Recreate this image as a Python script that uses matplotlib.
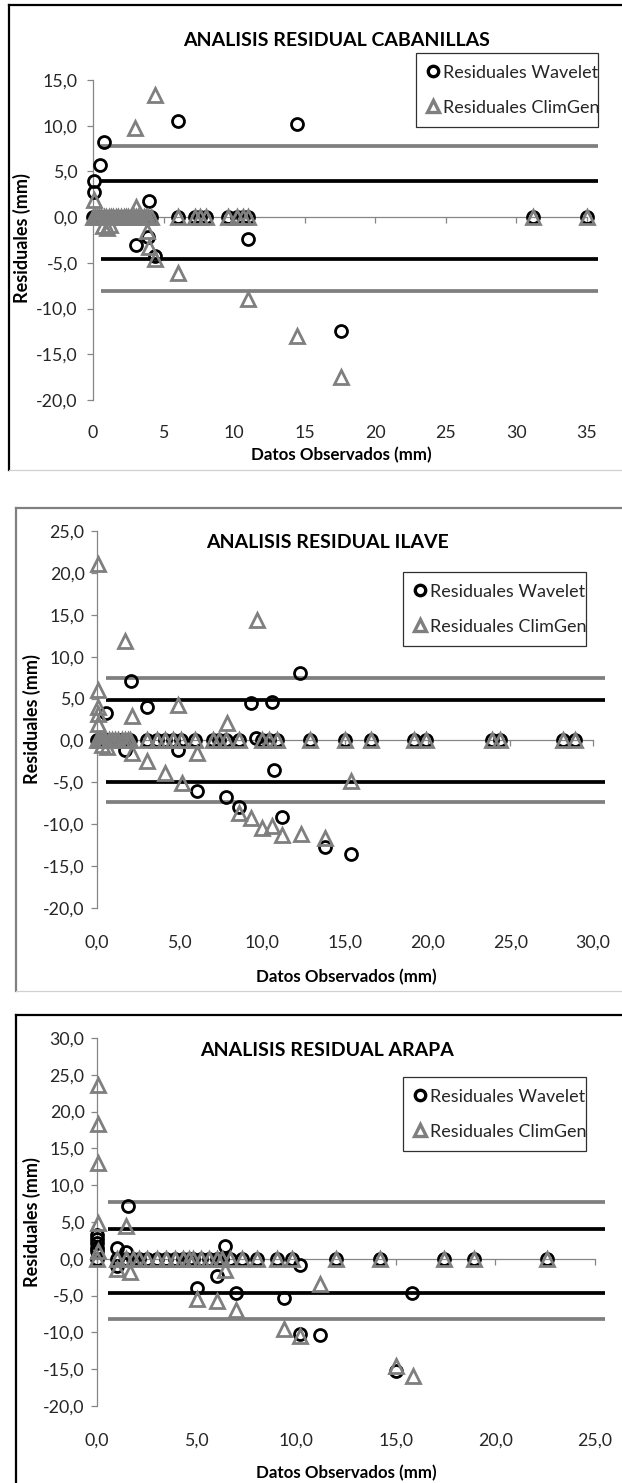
import matplotlib
matplotlib.use('Agg')
import numpy as np
import matplotlib.pyplot as plt
from matplotlib.lines import Line2D
from matplotlib.ticker import FuncFormatter, FixedLocator
from matplotlib import font_manager as fm

# ---------------- DATA ----------------
# Panel 1: CABANILLAS
cab_zero_x = [0.0, 0.15, 0.3, 0.45, 0.6, 0.8, 0.95, 1.1, 1.3, 1.45, 1.6, 1.8, 2.0, 2.2, 2.35,
              2.5, 2.7, 2.9, 3.05, 3.2, 3.4, 3.6, 3.75, 3.9, 4.1, 6.05, 7.2, 7.6, 8.0, 9.6,
              10.2, 10.6, 11.0, 31.2, 35.0]
cab_wav_x = [0.05, 0.05, 0.5, 0.8, 4.0, 6.05, 14.45, 3.05, 3.9, 4.4, 11.0, 17.55]
cab_wav_y = [4.0, 2.8, 5.7, 8.2, 1.8, 10.5, 10.2, -3.0, -2.2, -4.3, -2.4, -12.4]
cab_clim_x = [0.05, 0.7, 1.0, 1.2, 3.0, 3.05, 4.4, 3.8, 3.95, 4.4, 6.05, 11.0, 14.45, 17.55]
cab_clim_y = [1.9, -1.0, -1.2, -0.9, 9.7, 1.1, 13.4, -1.5, -3.3, -4.6, -6.1, -9.0, -13.0, -17.5]
cab_limits = [7.8, 4.0, -4.6, -8.1]
cab_lim_x = [0.6, 35.8]
cab_xticks = [0, 5, 10, 15, 20, 25, 30, 35]
cab_yticks = [-20, -15, -10, -5, 0, 5, 10, 15]

# Panel 2: ILAVE
ila_zero_x = [0.0, 0.1, 0.2, 0.3, 0.4, 0.5, 0.7, 0.9, 1.1, 1.3, 1.5, 1.7, 1.9, 2.0, 3.05, 3.6,
              4.1, 4.6, 5.1, 5.95, 7.0, 7.4, 7.8, 8.6, 10.0, 10.4, 10.9, 12.9, 15.0, 16.6,
              19.2, 19.9, 23.9, 24.4, 28.2, 28.9]
ila_wav_x = [0.55, 2.05, 3.05, 9.3, 10.6, 12.3, 9.6, 1.7, 4.9, 6.05, 7.8, 8.6, 10.7, 11.2, 13.8, 15.35]
ila_wav_y = [3.3, 7.1, 4.0, 4.5, 4.6, 8.1, 0.3, -1.1, -1.1, -6.0, -6.7, -7.9, -3.5, -9.1, -12.7, -13.6]
ila_clim_x = [0.05, 0.05, 0.05, 0.05, 0.05, 0.3, 0.6, 1.7, 2.1, 4.9, 7.85, 9.65, 2.1, 3.05, 4.1,
              5.15, 6.05, 8.6, 9.3, 10.0, 10.6, 11.2, 12.35, 13.8, 15.35]
ila_clim_y = [21.1, 6.0, 4.0, 3.2, 2.0, -0.6, -0.8, 11.9, 2.9, 4.2, 2.1, 14.4, -1.5, -2.5, -3.9,
              -5.1, -1.5, -8.7, -9.3, -10.5, -10.2, -11.3, -11.2, -11.6, -4.8]
ila_limits = [7.4, 4.8, -5.0, -7.4]
ila_lim_x = [0.55, 30.7]
ila_xticks = [0, 5, 10, 15, 20, 25, 30]
ila_yticks = [-20, -15, -10, -5, 0, 5, 10, 15, 20, 25]

# Panel 3: ARAPA
ara_zero_x = [0.0, 1.0, 1.45, 1.8, 2.1, 2.5, 3.0, 3.45, 3.9, 4.3, 4.6, 4.8, 5.2, 5.6, 6.0, 6.3,
              6.7, 7.3, 8.05, 9.05, 9.8, 12.0, 14.2, 17.4, 18.95, 22.6]
ara_wav_x = [1.55, 0.0, 0.0, 0.0, 0.0, 0.0, 1.0, 1.45, 1.0, 6.45, 6.0, 5.0, 7.0, 9.4, 10.2, 10.2,
             11.2, 15.0, 15.8]
ara_wav_y = [7.2, 3.2, 2.7, 2.2, 1.5, 1.0, 1.4, 0.9, -1.0, 1.7, -2.4, -3.9, -4.7, -5.3, -0.9,
             -10.2, -10.4, -15.3, -4.7]
ara_clim_x = [0.05, 0.05, 0.05, 0.05, 0.05, 1.45, 1.0, 1.65, 5.0, 6.0, 6.45, 7.0, 9.4, 10.2,
              11.2, 15.0, 15.85]
ara_clim_y = [23.6, 18.3, 13.0, 4.9, 1.1, 4.5, -1.4, -1.8, -5.4, -5.7, -1.5, -6.9, -9.5, -10.5,
              -3.4, -14.6, -15.9]
ara_limits = [7.7, 4.0, -4.7, -8.2]
ara_lim_x = [0.54, 25.5]
ara_xticks = [0, 5, 10, 15, 20, 25]
ara_yticks = [-20, -15, -10, -5, 0, 5, 10, 15, 20, 25, 30]

titles = ['ANALISIS RESIDUAL CABANILLAS', 'ANALISIS RESIDUAL ILAVE', 'ANALISIS RESIDUAL ARAPA']
legend_labels = ['Residuales Wavelet', 'Residuales ClimGen']
ylabel = 'Residuales (mm)'
xlabel = 'Datos Observados (mm)'

# ---------------- STYLE ----------------
def pick(names):
    for n in names:
        try:
            fm.findfont(fm.FontProperties(family=n), fallback_to_default=False)
            return n
        except Exception:
            pass
    return 'DejaVu Sans'

FONT = pick(['Liberation Sans Narrow', 'Lato', 'Open Sans'])
if FONT == 'Liberation Sans Narrow':
    FS, FS_T, FS_L, FS_X, FS_Y = 14.0, 14.8, 14.0, 13.0, 13.8
else:
    FS, FS_T, FS_L, FS_X, FS_Y = 12.8, 14.0, 13.0, 12.2, 13.0
plt.rcParams['font.family'] = [FONT, 'DejaVu Sans']

W, H = 622, 1483
fig = plt.figure(figsize=(W / 100, H / 100), dpi=100)

def fx(px):
    return px / W

def fy(py):
    return 1 - py / H

GREY = '#7f7f7f'
AXC = '#868686'
TXT = '#262626'

def frame(x0, ytop, ybot, col_main, col_bottom):
    lw = 1.6
    fig.add_artist(Line2D([fx(x0), 1.0], [fy(ytop), fy(ytop)], color=col_main, lw=lw))
    fig.add_artist(Line2D([fx(x0), fx(x0)], [fy(ytop), fy(ybot)], color=col_main, lw=lw))
    if col_bottom is not None:
        fig.add_artist(Line2D([fx(x0), 1.0], [fy(ybot), fy(ybot)], color=col_bottom, lw=0.9))

frame(9, 5, 470, 'black', '#d0d0d0')
frame(16, 508, 991, '#808080', '#d0d0d0')
frame(16, 1015, 1483, 'black', None)

panels = [
    dict(zx=cab_zero_x, wx=cab_wav_x, wy=cab_wav_y, cx=cab_clim_x, cy=cab_clim_y,
         lims=cab_limits, limx=cab_lim_x, xt=cab_xticks, yt=cab_yticks,
         box=(93, 587, 80, 400), title_xy=(337, 40), ylab_xy=(22, 238), xlab_xy=(341, 455),
         leg=(416, 53, 598, 137), xfmt='int', ypad=7, xpad=18),
    dict(zx=ila_zero_x, wx=ila_wav_x, wy=ila_wav_y, cx=ila_clim_x, cy=ila_clim_y,
         lims=ila_limits, limx=ila_lim_x, xt=ila_xticks, yt=ila_yticks,
         box=(97, 593, 531, 908), title_xy=(327, 543), ylab_xy=(32, 719), xlab_xy=(346, 977),
         leg=(403, 572, 586, 658), xfmt='dec', ypad=5, xpad=19),
    dict(zx=ara_zero_x, wx=ara_wav_x, wy=ara_wav_y, cx=ara_clim_x, cy=ara_clim_y,
         lims=ara_limits, limx=ara_lim_x, xt=ara_xticks, yt=ara_yticks,
         box=(97, 595, 1038, 1406), title_xy=(327, 1050), ylab_xy=(32, 1222), xlab_xy=(346, 1473),
         leg=(403, 1077, 586, 1162), xfmt='dec', ypad=5, xpad=19),
]

dec_fmt = FuncFormatter(lambda v, p: f"{v:.1f}".replace('.', ','))
int_fmt = FuncFormatter(lambda v, p: f"{v:.0f}")

for i, P in enumerate(panels):
    x0, x1, yt, yb = P['box']
    ax = fig.add_axes([fx(x0), fy(yb), (x1 - x0) / W, (yb - yt) / H])
    ax.patch.set_alpha(0)
    ax.set_xlim(min(P['xt']), max(P['xt']))
    ax.set_ylim(min(P['yt']), max(P['yt']))
    for s in ['top', 'right']:
        ax.spines[s].set_visible(False)
    ax.spines['left'].set_color(AXC)
    ax.spines['bottom'].set_color(AXC)
    ax.spines['bottom'].set_position(('data', 0))
    ax.spines['left'].set_linewidth(0.9)
    ax.spines['bottom'].set_linewidth(0.9)
    ax.xaxis.set_major_locator(FixedLocator(P['xt']))
    ax.yaxis.set_major_locator(FixedLocator(P['yt']))
    ax.yaxis.set_major_formatter(dec_fmt)
    ax.tick_params(axis='y', direction='out', length=4, width=0.9, color=AXC,
                   labelsize=FS, labelcolor=TXT, pad=P['ypad'])
    ax.tick_params(axis='x', direction='out', length=4, width=0.9, color=AXC, labelbottom=False)

    sec = ax.secondary_xaxis('bottom')
    sec.spines['bottom'].set_visible(False)
    sec.xaxis.set_major_locator(FixedLocator(P['xt']))
    sec.xaxis.set_major_formatter(int_fmt if P['xfmt'] == 'int' else dec_fmt)
    sec.tick_params(length=0, labelsize=FS, labelcolor=TXT, pad=P['xpad'])

    # limit lines
    cols = [GREY, 'black', 'black', GREY]
    for lvl, c in zip(P['lims'], cols):
        ax.plot(P['limx'], [lvl, lvl], color=c, lw=2.7, solid_capstyle='butt',
                clip_on=False, zorder=2)

    wx = list(P['zx']) + list(P['wx'])
    wy = [0.0] * len(P['zx']) + list(P['wy'])
    cx = list(P['zx']) + list(P['cx'])
    cy = [0.0] * len(P['zx']) + list(P['cy'])
    ax.plot(wx, wy, 'o', mfc='none', mec='black', mew=2.0, ms=8.6, ls='none',
            zorder=3, clip_on=False)
    ax.plot(cx, cy, '^', mfc='none', mec=GREY, mew=2.0, ms=9.4, ls='none',
            zorder=4, clip_on=False)

    # legend
    lx0, ly0, lx1, ly1 = P['leg']
    h1 = Line2D([], [], marker='o', mfc='none', mec='black', mew=2.4, ms=7.5, ls='none')
    h2 = Line2D([], [], marker='^', mfc='none', mec=GREY, mew=2.4, ms=8.0, ls='none')
    leg = ax.legend([h1, h2], legend_labels, loc='upper left',
                    bbox_to_anchor=(fx(lx0), fy(ly1), (lx1 - lx0) / W, (ly1 - ly0) / H),
                    bbox_transform=fig.transFigure, mode='expand',
                    fontsize=FS_L, frameon=True, fancybox=False, edgecolor='#303030',
                    framealpha=1, borderpad=0.65, labelspacing=1.05, handlelength=0.6,
                    handletextpad=0.25, borderaxespad=0)
    leg.get_frame().set_linewidth(0.9)
    for t in leg.get_texts():
        t.set_color(TXT)

    fig.text(fx(P['title_xy'][0]), fy(P['title_xy'][1]), titles[i], ha='center', va='center',
             fontsize=FS_T, fontweight='bold', color='black')
    fig.text(fx(P['ylab_xy'][0]), fy(P['ylab_xy'][1]), ylabel, ha='center', va='center',
             rotation=90, fontsize=FS_Y, fontweight='bold', color='black')
    fig.text(fx(P['xlab_xy'][0]), fy(P['xlab_xy'][1]), xlabel, ha='center', va='center',
             fontsize=FS_X, fontweight='bold', color='black')

fig.savefig('out.png', dpi=100)
